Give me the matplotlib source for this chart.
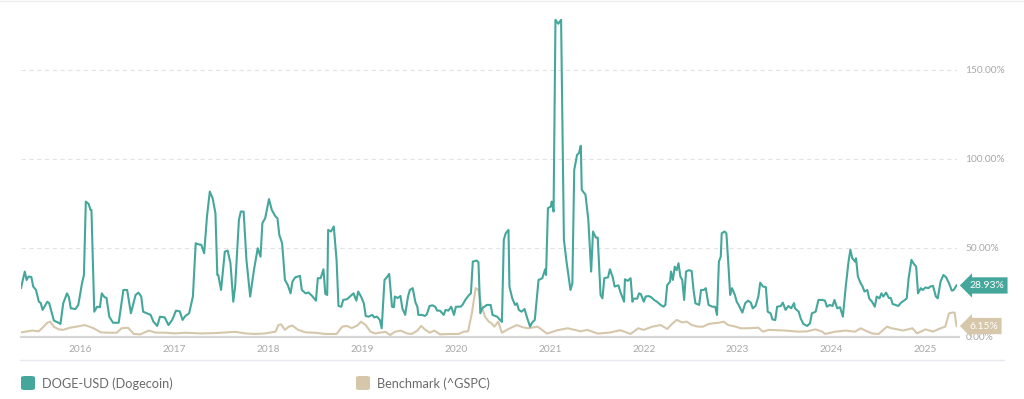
import matplotlib
matplotlib.use("Agg")
import matplotlib.pyplot as plt
from matplotlib.patches import FancyBboxPatch
from matplotlib.lines import Line2D

plt.rcParams['font.family'] = ['Lato', 'DejaVu Sans']

# ---- data (time in decimal years, values in %) ----
doge_t = [2015.37, 2015.41, 2015.43, 2015.45, 2015.48, 2015.50, 2015.53, 2015.56, 2015.58, 2015.60,
          2015.65, 2015.67, 2015.72, 2015.77, 2015.79, 2015.82, 2015.86, 2015.88, 2015.90, 2015.95,
          2015.98, 2016.02, 2016.04, 2016.06, 2016.09, 2016.11, 2016.12, 2016.15, 2016.18, 2016.21,
          2016.23, 2016.26, 2016.28, 2016.31, 2016.35, 2016.41, 2016.46, 2016.50, 2016.54, 2016.59,
          2016.62, 2016.65, 2016.67, 2016.71, 2016.75, 2016.78, 2016.82, 2016.85, 2016.90, 2016.94,
          2016.98, 2017.02, 2017.06, 2017.09, 2017.12, 2017.16, 2017.20, 2017.23, 2017.26, 2017.29,
          2017.32, 2017.35, 2017.38, 2017.41, 2017.44, 2017.46, 2017.47, 2017.50, 2017.54, 2017.57,
          2017.60, 2017.63, 2017.65, 2017.69, 2017.71, 2017.74, 2017.77, 2017.81, 2017.85, 2017.89,
          2017.92, 2017.94, 2017.97, 2018.01, 2018.04, 2018.08, 2018.10, 2018.12, 2018.15, 2018.18,
          2018.21, 2018.24, 2018.26, 2018.29, 2018.34, 2018.36, 2018.40, 2018.43, 2018.47, 2018.51,
          2018.53, 2018.56, 2018.59, 2018.61, 2018.63, 2018.64, 2018.67, 2018.70, 2018.73, 2018.75,
          2018.78, 2018.80, 2018.84, 2018.89, 2018.91, 2018.94, 2018.96, 2018.99, 2019.02, 2019.04,
          2019.07, 2019.11, 2019.13, 2019.16, 2019.19, 2019.21, 2019.24, 2019.27, 2019.29, 2019.32,
          2019.34, 2019.35, 2019.38, 2019.41, 2019.43, 2019.46, 2019.49, 2019.51, 2019.54, 2019.57,
          2019.59, 2019.60, 2019.64, 2019.67, 2019.69, 2019.72, 2019.75, 2019.78, 2019.80, 2019.83,
          2019.87, 2019.89, 2019.92, 2019.95, 2019.98, 2020.00, 2020.05, 2020.07, 2020.10, 2020.14,
          2020.16, 2020.18, 2020.22, 2020.24, 2020.26, 2020.28, 2020.33, 2020.37, 2020.39, 2020.44,
          2020.47, 2020.49, 2020.51, 2020.53, 2020.56, 2020.57, 2020.60, 2020.63, 2020.65, 2020.67,
          2020.70, 2020.73, 2020.76, 2020.79, 2020.81, 2020.84, 2020.86, 2020.88, 2020.92, 2020.95,
          2020.96, 2020.98, 2021.01, 2021.02, 2021.04, 2021.06, 2021.09, 2021.12, 2021.15, 2021.18,
          2021.22, 2021.24, 2021.26, 2021.29, 2021.31, 2021.33, 2021.34, 2021.38, 2021.41, 2021.44,
          2021.46, 2021.49, 2021.51, 2021.54, 2021.56, 2021.58, 2021.62, 2021.64, 2021.67, 2021.69,
          2021.73, 2021.75, 2021.79, 2021.80, 2021.83, 2021.86, 2021.88, 2021.89, 2021.93, 2021.95,
          2021.97, 2022.00, 2022.02, 2022.05, 2022.08, 2022.11, 2022.14, 2022.18, 2022.21, 2022.23,
          2022.25, 2022.28, 2022.29, 2022.31, 2022.33, 2022.35, 2022.37, 2022.39, 2022.41, 2022.43,
          2022.45, 2022.48, 2022.51, 2022.53, 2022.55, 2022.59, 2022.61, 2022.64, 2022.66, 2022.69,
          2022.73, 2022.76, 2022.78, 2022.80, 2022.82, 2022.83, 2022.86, 2022.88, 2022.90, 2022.92,
          2022.94, 2022.97, 2022.99, 2023.01, 2023.05, 2023.08, 2023.11, 2023.14, 2023.16, 2023.19,
          2023.22, 2023.24, 2023.27, 2023.30, 2023.32, 2023.35, 2023.37, 2023.40, 2023.42, 2023.46,
          2023.48, 2023.51, 2023.54, 2023.57, 2023.60, 2023.61, 2023.65, 2023.67, 2023.70, 2023.74,
          2023.77, 2023.79, 2023.83, 2023.86, 2023.90, 2023.93, 2023.95, 2023.98, 2024.01, 2024.03,
          2024.06, 2024.09, 2024.12, 2024.15, 2024.18, 2024.20, 2024.22, 2024.25, 2024.26, 2024.28,
          2024.31, 2024.33, 2024.35, 2024.38, 2024.40, 2024.43, 2024.46, 2024.48, 2024.51, 2024.53,
          2024.55, 2024.58, 2024.61, 2024.63, 2024.65, 2024.68, 2024.71, 2024.74, 2024.78, 2024.80,
          2024.82, 2024.85, 2024.87, 2024.90, 2024.92, 2024.95, 2024.97, 2025.00, 2025.03, 2025.05,
          2025.08, 2025.11, 2025.13, 2025.16, 2025.19, 2025.22, 2025.25, 2025.28, 2025.30, 2025.33]
doge_v = [27.5, 36.7, 32.0, 33.9, 33.7, 28.3, 26.4, 19.8, 19.1, 15.2,
          19.8, 19.0, 9.2, 8.0, 7.3, 19.0, 24.5, 22.3, 16.1, 15.7,
          18.0, 30.3, 34.8, 76.0, 74.7, 71.3, 71.3, 14.2, 17.0, 16.7,
          24.5, 22.3, 22.0, 11.4, 8.0, 8.0, 26.4, 26.4, 13.3, 23.6,
          24.9, 22.7, 14.2, 13.3, 12.4, 8.6, 6.2, 11.4, 11.0, 6.7,
          9.6, 14.8, 14.4, 9.6, 11.8, 13.3, 22.7, 52.6, 52.0, 51.7,
          47.0, 67.6, 81.6, 77.9, 69.5, 34.8, 34.8, 26.4, 47.9, 48.5,
          41.4, 19.8, 28.3, 65.7, 70.4, 70.4, 43.3, 22.7, 37.6, 49.8,
          45.1, 63.9, 66.7, 77.4, 71.3, 67.6, 66.7, 57.3, 52.6, 32.0,
          29.2, 24.5, 31.1, 33.5, 34.3, 26.4, 24.5, 25.0, 23.0, 20.4,
          33.0, 33.0, 38.0, 24.2, 23.6, 60.1, 59.2, 62.0, 42.9, 17.4,
          17.0, 20.8, 21.2, 23.6, 24.5, 20.4, 25.5, 22.7, 18.9, 11.8,
          11.4, 12.4, 11.0, 11.4, 9.6, 4.9, 32.0, 33.9, 35.4, 17.0,
          16.7, 22.7, 21.9, 23.0, 16.1, 12.4, 22.7, 26.4, 27.4, 19.3,
          17.0, 12.4, 12.4, 11.8, 12.7, 17.4, 17.8, 17.0, 14.8, 14.8,
          12.4, 15.2, 14.8, 17.0, 12.4, 17.0, 17.0, 18.0, 20.8, 23.6,
          24.5, 42.3, 42.9, 42.0, 13.3, 16.1, 18.0, 18.0, 12.4, 11.4,
          9.6, 8.5, 54.5, 58.2, 60.1, 28.3, 21.7, 18.0, 18.9, 15.2,
          14.2, 15.7, 10.5, 5.8, 8.0, 9.6, 20.8, 32.0, 33.0, 38.0,
          34.8, 72.3, 73.2, 76.0, 70.4, 178.0, 175.8, 178.0, 54.5, 41.4,
          26.4, 30.1, 93.8, 102.2, 103.2, 107.3, 82.6, 79.8, 65.7, 36.7,
          59.2, 55.8, 55.8, 23.6, 21.7, 33.0, 33.5, 38.0, 33.5, 28.3,
          29.0, 25.5, 19.8, 32.4, 31.5, 33.0, 19.8, 21.5, 21.5, 24.5,
          24.0, 19.8, 22.7, 23.0, 22.3, 20.8, 19.8, 18.0, 17.0, 18.0,
          29.2, 31.0, 36.7, 32.0, 39.5, 37.5, 41.4, 33.9, 32.0, 20.8,
          36.7, 37.5, 37.0, 26.4, 18.9, 18.0, 26.4, 26.4, 27.4, 18.0,
          17.0, 17.0, 12.4, 42.3, 45.1, 58.2, 59.2, 58.2, 41.4, 23.6,
          27.4, 23.6, 19.8, 18.0, 13.7, 18.9, 20.4, 19.3, 16.1, 17.4,
          22.7, 30.5, 28.3, 28.0, 14.2, 13.3, 9.9, 9.5, 17.0, 17.4,
          19.3, 15.2, 17.4, 16.1, 19.0, 16.1, 14.2, 10.5, 7.3, 6.2,
          7.7, 13.3, 14.2, 20.8, 20.8, 20.4, 17.0, 18.0, 17.4, 20.8,
          16.1, 16.7, 11.4, 28.0, 42.3, 49.0, 44.2, 42.3, 44.2, 33.9,
          30.1, 28.3, 25.5, 26.4, 21.7, 19.8, 17.0, 22.7, 21.7, 24.5,
          22.7, 24.9, 21.9, 21.9, 18.5, 18.0, 17.4, 19.3, 20.8, 21.7,
          33.0, 43.3, 41.4, 39.5, 24.5, 27.4, 26.4, 27.8, 27.4, 28.3,
          28.7, 22.7, 21.7, 31.1, 34.8, 33.5, 30.1, 26.0, 26.4, 28.93]

bench_t = [2015.37, 2015.49, 2015.56, 2015.61, 2015.65, 2015.68, 2015.72, 2015.77, 2015.82, 2015.89,
           2015.96, 2016.05, 2016.14, 2016.22, 2016.30, 2016.39, 2016.44, 2016.51, 2016.57, 2016.64,
           2016.73, 2016.80, 2016.91, 2017.01, 2017.12, 2017.28, 2017.44, 2017.65, 2017.76, 2017.86,
           2017.97, 2018.08, 2018.11, 2018.14, 2018.18, 2018.22, 2018.26, 2018.32, 2018.40, 2018.50,
           2018.61, 2018.73, 2018.79, 2018.84, 2018.89, 2018.95, 2018.99, 2019.04, 2019.09, 2019.14,
           2019.25, 2019.30, 2019.35, 2019.41, 2019.48, 2019.53, 2019.59, 2019.63, 2019.67, 2019.72,
           2019.77, 2019.83, 2019.92, 2020.03, 2020.08, 2020.13, 2020.17, 2020.21, 2020.24, 2020.27,
           2020.31, 2020.35, 2020.38, 2020.41, 2020.45, 2020.49, 2020.56, 2020.65, 2020.71, 2020.77,
           2020.87, 2020.97, 2021.08, 2021.19, 2021.33, 2021.40, 2021.51, 2021.64, 2021.75, 2021.86,
           2021.94, 2022.00, 2022.09, 2022.18, 2022.25, 2022.30, 2022.35, 2022.41, 2022.46, 2022.51,
           2022.58, 2022.63, 2022.69, 2022.74, 2022.80, 2022.85, 2022.90, 2022.98, 2023.03, 2023.11,
           2023.22, 2023.27, 2023.33, 2023.51, 2023.65, 2023.74, 2023.83, 2023.90, 2023.93, 2024.04,
           2024.15, 2024.25, 2024.31, 2024.36, 2024.43, 2024.50, 2024.59, 2024.64, 2024.70, 2024.76,
           2024.86, 2024.91, 2025.00, 2025.08, 2025.16, 2025.21, 2025.25, 2025.29, 2025.31, 2025.33]
bench_v = [2.6, 3.6, 3.2, 5.8, 8.0, 8.6, 5.8, 4.3, 4.0, 5.2,
           5.8, 6.7, 5.0, 2.6, 2.4, 2.4, 4.9, 5.2, 1.7, 1.5,
           3.6, 2.5, 2.4, 2.0, 2.4, 2.0, 2.2, 2.9, 2.0, 1.7,
           2.0, 3.0, 6.7, 7.1, 4.0, 5.8, 6.4, 4.0, 2.6, 2.4,
           1.7, 1.7, 5.8, 6.2, 5.0, 6.4, 8.6, 6.7, 3.0, 2.0,
           2.9, 1.1, 2.9, 3.6, 2.0, 1.7, 3.6, 6.2, 4.3, 2.4,
           3.6, 1.5, 1.7, 1.7, 2.9, 3.2, 13.3, 27.4, 26.4, 18.0,
           11.4, 8.6, 7.7, 5.8, 8.6, 2.4, 4.5, 6.7, 5.5, 4.9,
           5.8, 1.9, 3.8, 4.9, 3.2, 4.0, 1.9, 2.5, 3.8, 1.7,
           4.9, 4.0, 5.8, 6.7, 4.5, 7.3, 9.6, 8.2, 8.6, 6.7,
           5.8, 5.8, 7.3, 7.7, 8.0, 8.6, 6.7, 5.8, 4.9, 4.9,
           5.2, 3.0, 4.0, 3.6, 3.0, 3.2, 4.3, 3.0, 1.7, 3.0,
           3.6, 3.0, 4.9, 3.6, 2.0, 1.7, 5.8, 4.9, 4.3, 3.6,
           4.9, 2.0, 4.3, 3.0, 4.9, 5.8, 13.3, 13.7, 13.7, 6.15]

years = list(range(2016, 2026))
y_ticks = [0, 50, 100, 150]
series_names = ["DOGE-USD (Dogecoin)", "Benchmark (^GSPC)"]

TEAL = "#45a79b"
TAN = "#d6c7ab"
GRID = "#e3e3e3"
TXT = "#a8a8a8"

W, H = 1024, 399
fig = plt.figure(figsize=(W / 100, H / 100), dpi=100)
ax = fig.add_axes([21 / W, 62 / H, (957 - 21) / W, 335 / H])

ax.plot(bench_t, bench_v, color=TAN, lw=1.5, solid_joinstyle='round', zorder=3)
ax.plot(doge_t, doge_v, color=TEAL, lw=1.5, solid_joinstyle='round', zorder=4)

ax.set_xlim(2015.37, 2025.335)
ax.set_ylim(0, 188)

for v in y_ticks[1:]:
    ax.axhline(v, color=GRID, lw=0.8, ls=(0, (4, 3)), zorder=1)
ax.plot([0, 1.002], [0, 0], transform=ax.transAxes, color="#d5d5d5", lw=1.6,
        clip_on=False, zorder=2)

for s in ax.spines.values():
    s.set_visible(False)

ax.set_xticks(years)
ax.set_xticklabels([str(y) for y in years])
ax.tick_params(axis='x', length=0, pad=6, labelsize=7.3, labelcolor=TXT)
ax.yaxis.tick_right()
ax.set_yticks(y_ticks)
ax.set_yticklabels([f"{v:.2f}%" for v in y_ticks])
ax.tick_params(axis='y', length=0, pad=6, labelsize=7.3, labelcolor=TXT)

# end labels
for val_t, val, col in ((doge_t[-1], doge_v[-1], TEAL), (bench_t[-1], bench_v[-1], TAN)):
    ax.annotate(f"{val:.2f}%", xy=(val_t, val), xytext=(9, 0),
                textcoords='offset points', va='center', ha='left', fontsize=7.5, color='white',
                bbox=dict(boxstyle='larrow,pad=0.35', fc=col, ec='none'), annotation_clip=False,
                zorder=6)

# top hairline and separator line
fig.add_artist(Line2D([0, 1], [1 - 0.5 / H, 1 - 0.5 / H], color="#ececf0", lw=1.0))
fig.add_artist(Line2D([20 / W, 1004 / W], [1 - 360 / H, 1 - 360 / H], color="#e8e8ee", lw=1.0))

# legend
def legend_item(x_px, color, label):
    sq = 14
    fig.add_artist(FancyBboxPatch((x_px / W, 1 - 390 / H), sq / W, sq / H,
                                  boxstyle="round,pad=0,rounding_size=0.004",
                                  fc=color, ec='none', transform=fig.transFigure))
    fig.text((x_px + 21) / W, 1 - 383.5 / H, label, fontsize=9.2, color="#6b6b6b",
             va='center', ha='left')

legend_item(21, TEAL, series_names[0])
legend_item(356, TAN, series_names[1])

fig.savefig("out.png", dpi=100, facecolor='white')
